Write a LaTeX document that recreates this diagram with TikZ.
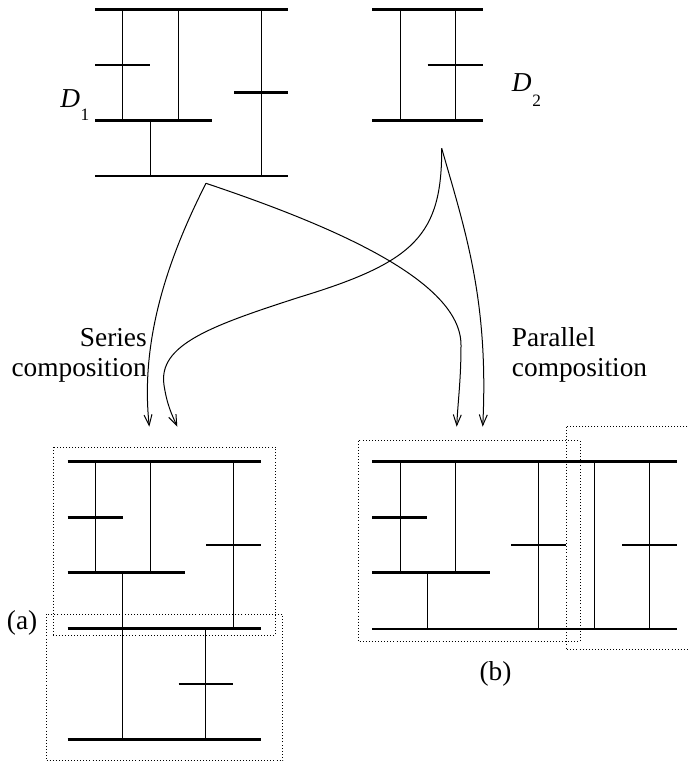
\documentclass[tikz,border=0pt]{standalone}
\usepackage{fontspec}
\setmainfont{Liberation Serif}
\usetikzlibrary{arrows.meta}

\begin{document}
\begin{tikzpicture}[x=0.75pt, y=-0.75pt,
  bar/.style={line width=2pt},
  stem/.style={line width=0.75pt},
  grp/.style={line width=0.7pt, dash pattern=on 0.7pt off 1.6pt},
  comp/.style={line width=0.75pt, -{Straight Barb[length=8pt, width=6pt]}},
  lbl/.style={font=\fontsize{20.5}{22.5}\selectfont, inner sep=0pt}]
  \useasboundingbox (0,0) rectangle (687,764);

  % D1 oben links
  \draw[bar] (95,9.3) -- (288,9.3);
  \draw[bar] (95,65) -- (150,65);
  \draw[bar] (234,92.7) -- (288,92.7);
  \draw[bar] (95,120.7) -- (212,120.7);
  \draw[bar] (95,176) -- (288,176);
  \draw[stem] (122.7,9.3) -- (122.7,120.7);
  \draw[stem] (178.3,9.3) -- (178.3,120.7);
  \draw[stem] (261,9.3) -- (261,176);
  \draw[stem] (150.3,120.7) -- (150.3,176);
  \node[lbl, anchor=base west] (dA) at (60,107.3)
    {\textit{D}\kern0.5pt\raisebox{-10pt}{\fontsize{13}{14}\selectfont 1}};

  % D2 oben rechts
  \draw[bar] (372.3,9.3) -- (482.7,9.3);
  \draw[bar] (427.7,65) -- (482.7,65);
  \draw[bar] (372.3,120.7) -- (482.7,120.7);
  \draw[stem] (400,9.3) -- (400,120.7);
  \draw[stem] (455.3,9.3) -- (455.3,120.7);
  \node[lbl, anchor=base west] (dB) at (511.7,91.7)
    {\textit{D}\kern0.5pt\raisebox{-11pt}{\fontsize{13}{14}\selectfont 2}};

  % Pfeile
  \coordinate (d1out) at (206,183.3);
  \coordinate (d2out) at (441.7,148.3);
  \coordinate (serA) at (149.3,426.7);
  \coordinate (serB) at (177.3,426.7);
  \coordinate (parA) at (456.7,426.7);
  \coordinate (parB) at (482.7,426.7);
  \draw[comp] (d1out) .. controls (168,258) and (140,340) .. (serA);
  \draw[comp] (d1out) .. controls (330,225) and (461,280) .. (461,345)
    .. controls (461,380) and (458,400) .. (parA);
  \draw[comp] (d2out) .. controls (442,235) and (415,262) .. (300,297)
    .. controls (210,326) and (158,345) .. (164,385)
    .. controls (167,405) and (172,415) .. (serB);
  \draw[comp] (d2out) .. controls (465,230) and (489,300) .. (parB);

  \node[lbl, align=right, anchor=east] (ser) at (147,355) {Series\\composition};
  \node[lbl, align=left, anchor=west] (par) at (511.7,355) {Parallel\\composition};

  % (a) Serienschaltung
  \draw[grp] (53.3,447.3) rectangle (275.7,635);
  \draw[grp] (46,614) rectangle (282.7,760.7);
  \draw[bar] (67.7,461.7) -- (261,461.7);
  \draw[bar] (67.7,517.3) -- (122.7,517.3);
  \draw[bar] (206,545) -- (261,545);
  \draw[bar] (67.7,572.7) -- (185,572.7);
  \draw[bar] (67.7,628.3) -- (261,628.3);
  \draw[bar] (178.7,684) -- (233.3,684);
  \draw[bar] (67.7,739.3) -- (261,739.3);
  \draw[stem] (95.3,461.7) -- (95.3,572.7);
  \draw[stem] (150.7,461.7) -- (150.7,572.7);
  \draw[stem] (233.3,461.7) -- (233.3,628.3);
  \draw[stem] (122.7,572.7) -- (122.7,739.3);
  \draw[stem] (205.7,628.3) -- (205.7,739.3);
  \node[lbl, anchor=base west] (ta) at (6.7,629) {(a)};

  % (b) Parallelschaltung
  \draw[grp] (358.3,440.7) rectangle (580,641.7);
  \draw[grp] (566,426.7) rectangle (700,649.3);
  \draw[bar] (372.3,461.7) -- (676.7,461.7);
  \draw[bar] (372.3,517.3) -- (427.3,517.3);
  \draw[bar] (511,545) -- (565.7,545);
  \draw[bar] (622,545) -- (676.7,545);
  \draw[bar] (372.3,572.7) -- (490,572.7);
  \draw[bar] (372.3,629) -- (676.7,629);
  \draw[stem] (400,461.7) -- (400,572.7);
  \draw[stem] (455.3,461.7) -- (455.3,572.7);
  \draw[stem] (538.7,461.7) -- (538.7,629);
  \draw[stem] (427.7,572.7) -- (427.7,629);
  \draw[stem] (594,461.7) -- (594,629);
  \draw[stem] (649.3,461.7) -- (649.3,629);
  \node[lbl, anchor=base west] (tb) at (479.3,680) {(b)};
\end{tikzpicture}
\end{document}
